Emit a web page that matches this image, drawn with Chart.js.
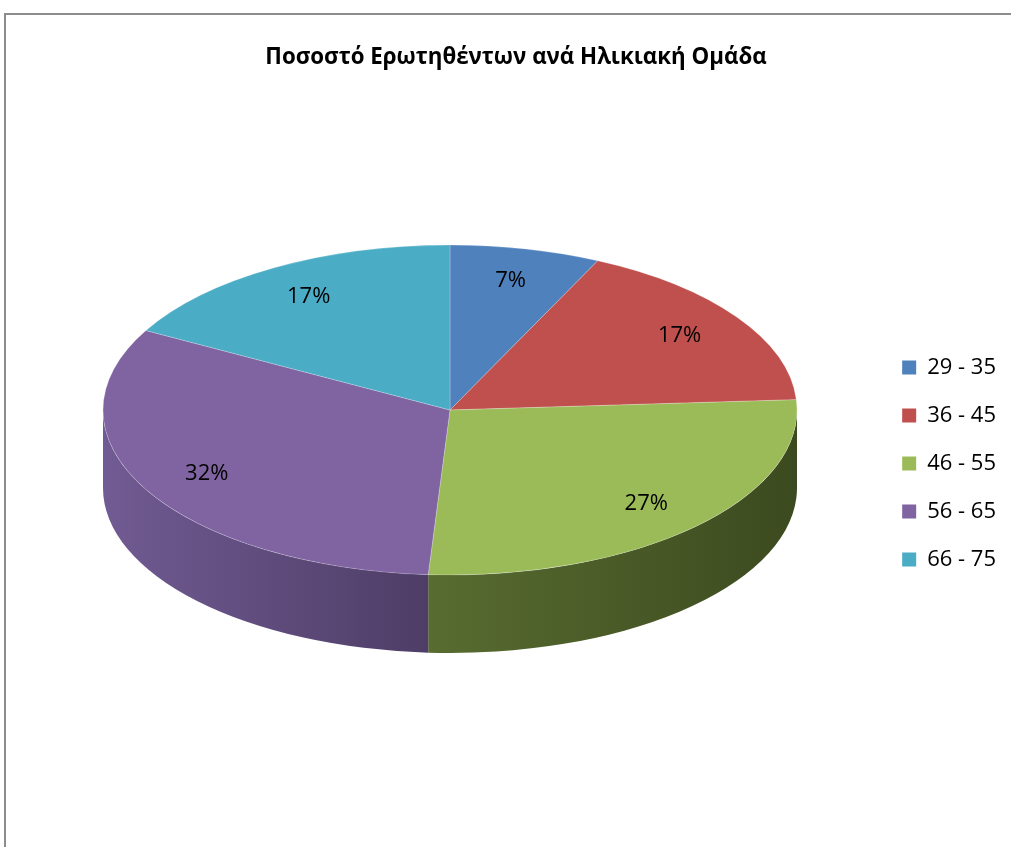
<!DOCTYPE html>
<html>
<head>
<meta charset="utf-8">
<script src="https://cdn.jsdelivr.net/npm/chart.js@4.4.1/dist/chart.umd.min.js"></script>
<style>
    html, body { margin: 0; padding: 0; background: #fff; overflow: hidden; }
    #frame { position: absolute; left: 4px; top: 13px; width: 1100px; height: 900px; border: 2px solid #8c8c8c; }
    #wrap { position: absolute; left: 0; top: 0; width: 1011px; height: 847px; }
</style>
</head>
<body>
<div id="frame"></div>
<div id="wrap"><canvas id="pieChart" width="1011" height="847"></canvas></div>
<script>
// Datos del gráfico
const chartTitle = 'Ποσοστό Ερωτηθέντων ανά Ηλικιακή Ομάδα';
const ageGroups = ['29 - 35', '36 - 45', '46 - 55', '56 - 65', '66 - 75'];
const percentages = [7, 17, 27, 32, 17];

// Estilos
const sliceColors = ['#4F81BD', '#C0504D', '#9BBB59', '#8064A2', '#4BACC6'];
const sideColors = [
    ['#3b6190', '#2a4668'],
    ['#933c3a', '#6a2b2a'],
    ['#586c30', '#3c4a1f'],
    ['#715b93', '#4e3d66'],
    ['#388497', '#285f6d']
];
const FONT = '"Open Sans", "Noto Sans", sans-serif';
const PIE_X = 450;     // centro de la elipse superior
const PIE_Y = 410;
const PIE_RX = 347;    // radio horizontal
const TILT = 165 / 347; // aplanado vertical
const DEPTH = 78;      // grosor del pastel

// Posición en pantalla de un punto del pastel plano
const project = (chart, x, y) => {
    const arc = chart.getDatasetMeta(0).data[0];
    return { x: PIE_X + (x - arc.x), y: PIE_Y + (y - arc.y) * TILT };
};

// Plugin para el efecto 3D (caras laterales + aplanado)
const tiltPlugin = {
    id: 'tilt3d',
    beforeDatasetsDraw(chart) {
        const ctx = chart.ctx;
        const arcs = chart.getDatasetMeta(0).data;
        if (!arcs.length) return;
        const cx = arcs[0].x, cy = arcs[0].y;
        ctx.save();
        ctx.translate(PIE_X, PIE_Y);
        ctx.scale(1, TILT);
        ctx.translate(-cx, -cy);
        const d = DEPTH / TILT;
        arcs.forEach((arc, i) => {
            const R = arc.outerRadius;
            const a0 = Math.max(arc.startAngle, 0);
            const a1 = Math.min(arc.endAngle, Math.PI);
            if (a1 <= a0) return;
            const xl = cx + R * Math.cos(a1);
            const xr = cx + R * Math.cos(a0);
            const grad = ctx.createLinearGradient(xl, 0, xr, 0);
            grad.addColorStop(0, sideColors[i][0]);
            grad.addColorStop(1, sideColors[i][1]);
            ctx.beginPath();
            ctx.arc(cx, cy, R, a0, a1);
            ctx.arc(cx, cy + d, R, a1, a0, true);
            ctx.closePath();
            ctx.fillStyle = grad;
            ctx.fill();
        });
    },
    afterDatasetsDraw(chart) {
        const ctx = chart.ctx;
        ctx.restore();
        // Etiquetas de porcentaje
        const arcs = chart.getDatasetMeta(0).data;
        ctx.save();
        ctx.font = '22px ' + FONT;
        ctx.fillStyle = '#000';
        ctx.textAlign = 'center';
        ctx.textBaseline = 'middle';
        arcs.forEach((arc, i) => {
            const mid = (arc.startAngle + arc.endAngle) / 2;
            const r = arc.outerRadius * 0.8;
            const p = project(chart, arc.x + r * Math.cos(mid), arc.y + r * Math.sin(mid));
            ctx.fillText(percentages[i] + '%', p.x, p.y);
        });
        ctx.restore();
    }
};

const ctx = document.getElementById('pieChart').getContext('2d');
const chart = new Chart(ctx, {
    type: 'pie',
    data: {
        labels: ageGroups,
        datasets: [{
            data: percentages,
            backgroundColor: sliceColors,
            borderColor: 'rgba(255,255,255,0.3)',
            borderWidth: 1,
            radius: PIE_RX,
            clip: false
        }]
    },
    options: {
        responsive: false,
        animation: false,
        layout: { padding: { left: 26, right: 5, top: 0, bottom: 3 } },
        plugins: {
            title: {
                display: true,
                text: chartTitle,
                color: '#000',
                font: { family: FONT, size: 22.3, weight: 'bold' },
                padding: { top: 44, bottom: 12 }
            },
            legend: {
                position: 'right',
                fullSize: false,
                labels: {
                    boxWidth: 14,
                    boxHeight: 14,
                    padding: 26,
                    color: '#000',
                    font: { family: FONT, size: 22 },
                    generateLabels: (c) => Chart.overrides.pie.plugins.legend.labels.generateLabels(c)
                        .map(l => Object.assign(l, { lineWidth: 0 }))
                }
            },
            tooltip: { enabled: false }
        }
    },
    plugins: [tiltPlugin]
});
</script>
</body>
</html>
